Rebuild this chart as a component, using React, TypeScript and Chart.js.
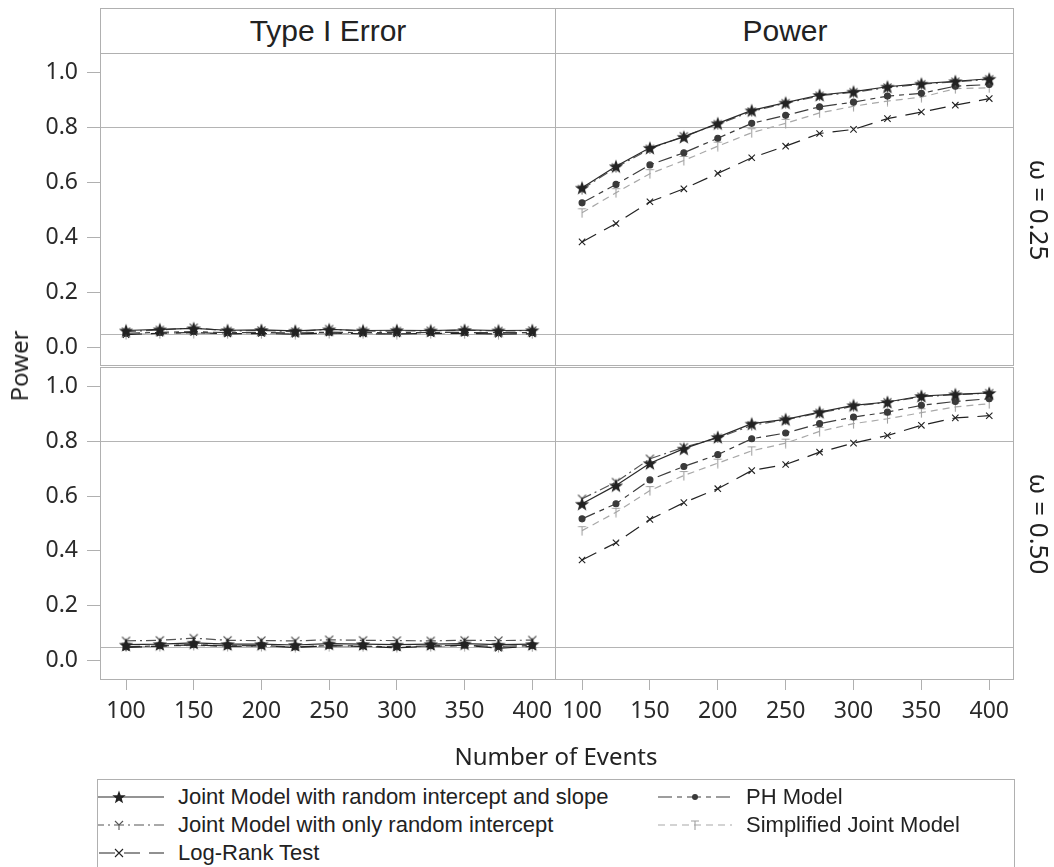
import React, { useEffect, useRef } from "react";
import { Chart, registerables } from "chart.js";

Chart.register(...registerables);

// ---------- data ----------
const events = [100, 125, 150, 175, 200, 225, 250, 275, 300, 325, 350, 375, 400];
const xTicks = [100, 150, 200, 250, 300, 350, 400];
const yTicks = [0, 0.2, 0.4, 0.6, 0.8, 1.0];
const refLines = [0.8, 0.05];

const seriesNames = [
  "Joint Model with random intercept and slope",
  "Joint Model with only random intercept",
  "Log-Rank Test",
  "PH Model",
  "Simplified Joint Model",
];

// Type I error, omega = 0.25
const t25_jmSlope = [0.062, 0.066, 0.070, 0.063, 0.064, 0.061, 0.066, 0.062, 0.063, 0.062, 0.064, 0.062, 0.063];
const t25_jmInt = [0.058, 0.064, 0.072, 0.060, 0.062, 0.058, 0.067, 0.060, 0.060, 0.061, 0.063, 0.060, 0.062];
const t25_lr = [0.047, 0.052, 0.055, 0.050, 0.051, 0.049, 0.053, 0.050, 0.050, 0.051, 0.052, 0.049, 0.050];
const t25_ph = [0.052, 0.055, 0.058, 0.054, 0.055, 0.053, 0.056, 0.054, 0.054, 0.055, 0.055, 0.054, 0.055];
const t25_simp = [0.048, 0.050, 0.052, 0.050, 0.050, 0.049, 0.051, 0.050, 0.049, 0.050, 0.050, 0.049, 0.050];

// Power, omega = 0.25
const p25_jmSlope = [0.581, 0.659, 0.726, 0.766, 0.815, 0.862, 0.890, 0.918, 0.930, 0.948, 0.959, 0.968, 0.977];
const p25_jmInt = [0.576, 0.655, 0.722, 0.768, 0.812, 0.858, 0.888, 0.915, 0.928, 0.945, 0.957, 0.966, 0.975];
const p25_lr = [0.384, 0.451, 0.530, 0.577, 0.633, 0.690, 0.732, 0.778, 0.793, 0.832, 0.856, 0.881, 0.905];
const p25_ph = [0.526, 0.593, 0.664, 0.708, 0.761, 0.815, 0.844, 0.875, 0.892, 0.914, 0.924, 0.950, 0.956];
const p25_simp = [0.490, 0.563, 0.632, 0.680, 0.732, 0.781, 0.815, 0.853, 0.877, 0.896, 0.910, 0.941, 0.944];

// Type I error, omega = 0.50
const t50_jmSlope = [0.058, 0.060, 0.065, 0.060, 0.060, 0.057, 0.062, 0.060, 0.058, 0.060, 0.062, 0.058, 0.060];
const t50_jmInt = [0.072, 0.074, 0.082, 0.074, 0.073, 0.072, 0.076, 0.074, 0.073, 0.072, 0.074, 0.073, 0.075];
const t50_lr = [0.048, 0.053, 0.058, 0.052, 0.054, 0.048, 0.054, 0.052, 0.047, 0.052, 0.056, 0.045, 0.052];
const t50_ph = [0.050, 0.054, 0.058, 0.054, 0.055, 0.050, 0.055, 0.053, 0.050, 0.054, 0.056, 0.052, 0.055];
const t50_simp = [0.050, 0.052, 0.055, 0.052, 0.052, 0.049, 0.053, 0.051, 0.048, 0.051, 0.053, 0.048, 0.050];

// Power, omega = 0.50
const p50_jmSlope = [0.572, 0.639, 0.720, 0.773, 0.815, 0.864, 0.880, 0.906, 0.931, 0.943, 0.965, 0.971, 0.976];
const p50_jmInt = [0.590, 0.651, 0.736, 0.778, 0.812, 0.858, 0.878, 0.903, 0.928, 0.942, 0.962, 0.970, 0.975];
const p50_lr = [0.367, 0.430, 0.515, 0.576, 0.627, 0.693, 0.715, 0.760, 0.793, 0.821, 0.858, 0.885, 0.893];
const p50_ph = [0.517, 0.572, 0.659, 0.708, 0.751, 0.809, 0.830, 0.864, 0.888, 0.906, 0.931, 0.945, 0.955];
const p50_simp = [0.474, 0.541, 0.620, 0.675, 0.720, 0.765, 0.793, 0.836, 0.864, 0.882, 0.904, 0.925, 0.937];

// ---------- styles ----------
type Marker = "star" | "y" | "x" | "dot" | "t";
const seriesStyles: { color: string; dash: number[]; marker: Marker; markerColor: string }[] = [
  { color: "#2a2a2a", dash: [], marker: "star", markerColor: "#222" },
  { color: "#555555", dash: [10, 4, 2, 4], marker: "y", markerColor: "#555" },
  { color: "#222222", dash: [16, 9], marker: "x", markerColor: "#222" },
  { color: "#3c3c3c", dash: [14, 5, 5, 5], marker: "dot", markerColor: "#3a3a3a" },
  { color: "#a8a8a8", dash: [7, 5], marker: "t", markerColor: "#a0a0a0" },
];

const X_MIN = 80.8;
const X_MAX = 417.5;
const Y_MIN = -0.067;
const Y_MAX = 1.067;
const BORDER = "#b0b0b0";
const TICK_FONT = "'Noto Sans', 'Open Sans', sans-serif";
const TEXT_FONT = "'Liberation Sans', Arial, sans-serif";

function markerCanvas(kind: Marker, color: string): HTMLCanvasElement | string {
  if (kind === "x") return "crossRot";
  if (kind === "dot") return "circle";
  const size = kind === "star" ? 16 : 11;
  const c = document.createElement("canvas");
  c.width = size;
  c.height = size;
  const ctx = c.getContext("2d")!;
  const cx = size / 2;
  const cy = size / 2;
  ctx.strokeStyle = color;
  ctx.fillStyle = color;
  ctx.lineWidth = 1.1;
  if (kind === "star") {
    const R = 7.5;
    const r = 3.1;
    ctx.beginPath();
    for (let i = 0; i < 10; i++) {
      const rad = i % 2 === 0 ? R : r;
      const a = -Math.PI / 2 + (i * Math.PI) / 5;
      const px = cx + rad * Math.cos(a);
      const py = cy + 0.7 + rad * Math.sin(a);
      if (i === 0) ctx.moveTo(px, py);
      else ctx.lineTo(px, py);
    }
    ctx.closePath();
    ctx.fill();
  } else if (kind === "y") {
    ctx.beginPath();
    ctx.moveTo(cx - 4, cy - 4);
    ctx.lineTo(cx, cy);
    ctx.lineTo(cx + 4, cy - 4);
    ctx.moveTo(cx, cy);
    ctx.lineTo(cx, cy + 5);
    ctx.stroke();
  } else if (kind === "t") {
    ctx.beginPath();
    ctx.moveTo(cx - 4, cy - 4);
    ctx.lineTo(cx + 4, cy - 4);
    ctx.moveTo(cx, cy - 4);
    ctx.lineTo(cx, cy + 5);
    ctx.stroke();
  }
  return c;
}

const refLinePlugin = {
  id: "refLines",
  beforeDatasetsDraw(chart: any) {
    const { ctx, chartArea, scales } = chart;
    ctx.save();
    ctx.strokeStyle = "#b4b4b4";
    ctx.lineWidth = 1;
    refLines.forEach((v) => {
      const y = Math.round(scales.y.getPixelForValue(v)) + 0.5;
      ctx.beginPath();
      ctx.moveTo(chartArea.left, y);
      ctx.lineTo(chartArea.right, y);
      ctx.stroke();
    });
    ctx.restore();
  },
};

function zeroPadding(s: any) {
  s.paddingTop = 0;
  s.paddingBottom = 0;
  s.paddingLeft = 0;
  s.paddingRight = 0;
}

function Panel(props: {
  left: number;
  top: number;
  width: number;
  height: number;
  series: number[][];
  showX: boolean;
  showY: boolean;
}) {
  const ref = useRef<HTMLCanvasElement>(null);
  useEffect(() => {
    const datasets = props.series.map((vals, i) => {
      const st = seriesStyles[i];
      const ps = markerCanvas(st.marker, st.markerColor);
      return {
        label: seriesNames[i],
        data: events.map((x, j) => ({ x, y: vals[j] })),
        borderColor: st.color,
        borderWidth: 1.2,
        borderDash: st.dash,
        fill: false,
        tension: 0,
        pointStyle: ps as any,
        pointRadius: st.marker === "dot" ? 3 : st.marker === "x" ? 4.5 : 5,
        pointBorderWidth: 1.1,
        pointBorderColor: st.markerColor,
        pointBackgroundColor: st.markerColor,
      };
    });
    const chart = new Chart(ref.current!, {
      type: "line",
      data: { datasets },
      options: {
        animation: false,
        responsive: false,
        maintainAspectRatio: false,
        events: [],
        layout: { padding: 0, autoPadding: false },
        plugins: { legend: { display: false }, tooltip: { enabled: false } },
        scales: {
          x: {
            type: "linear",
            min: X_MIN,
            max: X_MAX,
            display: props.showX,
            afterBuildTicks: (s: any) => {
              s.ticks = xTicks.map((v) => ({ value: v }));
            },
            afterFit: (s: any) => {
              if (props.showX) s.height = 70;
              zeroPadding(s);
            },
            grid: {
              display: true,
              drawOnChartArea: false,
              drawTicks: true,
              tickLength: 11,
              color: BORDER,
            },
            border: { display: false },
            ticks: {
              autoSkip: false,
              maxRotation: 0,
              padding: 8,
              color: "#2a2a2a",
              font: { family: TICK_FONT, size: 23 },
              callback: (v: any) => String(v),
            },
          },
          y: {
            type: "linear",
            min: Y_MIN,
            max: Y_MAX,
            display: props.showY,
            afterBuildTicks: (s: any) => {
              s.ticks = yTicks.map((v) => ({ value: v }));
            },
            afterFit: (s: any) => {
              if (props.showY) s.width = 100;
              zeroPadding(s);
            },
            grid: {
              display: true,
              drawOnChartArea: false,
              drawTicks: true,
              tickLength: 13,
              color: BORDER,
            },
            border: { display: false },
            ticks: {
              padding: 9,
              color: "#2a2a2a",
              font: { family: TICK_FONT, size: 23 },
              callback: (v: any) => Number(v).toFixed(1),
            },
          },
        },
      },
      plugins: [refLinePlugin],
    } as any);
    return () => chart.destroy();
  }, []);
  return (
    <canvas
      ref={ref}
      width={props.width}
      height={props.height}
      style={{ position: "absolute", left: props.left, top: props.top, width: props.width, height: props.height }}
    />
  );
}

function Box(p: { l: number; t: number; w: number; h: number }) {
  return (
    <div
      style={{
        position: "absolute",
        left: p.l,
        top: p.t,
        width: p.w,
        height: p.h,
        border: `1px solid ${BORDER}`,
        boxSizing: "border-box",
        pointerEvents: "none",
      }}
    />
  );
}

function Label(p: { x: number; y: number; text: string; size: number; font: string; rotate?: number }) {
  return (
    <div
      style={{
        position: "absolute",
        left: p.x,
        top: p.y,
        transform: `translate(-50%, -50%) rotate(${p.rotate || 0}deg)`,
        whiteSpace: "nowrap",
        fontFamily: p.font,
        fontSize: p.size,
        color: "#222",
        lineHeight: 1,
      }}
    >
      {p.text}
    </div>
  );
}

function SvgMarker({ kind, color }: { kind: Marker; color: string }) {
  if (kind === "star") {
    const pts: string[] = [];
    for (let i = 0; i < 10; i++) {
      const rad = i % 2 === 0 ? 7 : 2.9;
      const a = -Math.PI / 2 + (i * Math.PI) / 5;
      pts.push(`${(rad * Math.cos(a)).toFixed(2)},${(rad * Math.sin(a) + 0.5).toFixed(2)}`);
    }
    return <polygon points={pts.join(" ")} fill={color} />;
  }
  if (kind === "dot") return <circle cx={0} cy={0} r={3} fill={color} />;
  if (kind === "y") return <path d="M-4,-4 L0,0 L4,-4 M0,0 L0,5" stroke={color} fill="none" strokeWidth={1.1} />;
  if (kind === "t") return <path d="M-4,-4 L4,-4 M0,-4 L0,5" stroke={color} fill="none" strokeWidth={1.1} />;
  return <path d="M-4,-4 L4,4 M-4,4 L4,-4" stroke={color} fill="none" strokeWidth={1.1} />;
}

function LegendItem(p: { idx: number; x: number; y: number; textX: number; w: number }) {
  const st = seriesStyles[p.idx];
  const half = p.w / 2;
  return (
    <>
      <svg
        width={p.w}
        height={20}
        style={{ position: "absolute", left: p.x - half, top: p.y - 10, overflow: "visible" }}
      >
        <line x1={0} y1={10} x2={p.w} y2={10} stroke={st.color} strokeWidth={1.2} strokeDasharray={st.dash.join(" ")} />
        <g transform={`translate(${half},10)`}>
          <SvgMarker kind={st.marker} color={st.markerColor} />
        </g>
      </svg>
      <div
        style={{
          position: "absolute",
          left: p.textX,
          top: p.y,
          transform: "translateY(-50%)",
          whiteSpace: "nowrap",
          fontFamily: TEXT_FONT,
          fontSize: 22,
          color: "#222",
          lineHeight: 1,
        }}
      >
        {seriesNames[p.idx]}
      </div>
    </>
  );
}

export default function App() {
  return (
    <div
      style={{
        position: "absolute",
        left: 0,
        top: 0,
        width: 1054,
        height: 867,
        overflow: "hidden",
        background: "#fff",
      }}
    >
      {/* panels */}
      <Panel left={0} top={54} width={556} height={312} series={[t25_jmSlope, t25_jmInt, t25_lr, t25_ph, t25_simp]} showX={false} showY={true} />
      <Panel left={556} top={54} width={457} height={312} series={[p25_jmSlope, p25_jmInt, p25_lr, p25_ph, p25_simp]} showX={false} showY={false} />
      <Panel left={0} top={368} width={556} height={381} series={[t50_jmSlope, t50_jmInt, t50_lr, t50_ph, t50_simp]} showX={true} showY={true} />
      <Panel left={556} top={368} width={457} height={381} series={[p50_jmSlope, p50_jmInt, p50_lr, p50_ph, p50_simp]} showX={true} showY={false} />

      {/* frames */}
      <Box l={100} t={8} w={456} h={46} />
      <Box l={555} t={8} w={459} h={46} />
      <Box l={100} t={53} w={456} h={313} />
      <Box l={555} t={53} w={459} h={313} />
      <Box l={100} t={367} w={456} h={313} />
      <Box l={555} t={367} w={459} h={313} />

      {/* strip labels */}
      <Label x={328} y={31} text="Type I Error" size={30} font={TEXT_FONT} />
      <Label x={785} y={31} text="Power" size={30} font={TEXT_FONT} />
      <Label x={1040} y={210} text="ω = 0.25" size={26} font={TICK_FONT} rotate={90} />
      <Label x={1040} y={524} text="ω = 0.50" size={26} font={TICK_FONT} rotate={90} />

      {/* axis titles */}
      <Label x={19} y={366} text="Power" size={24} font={TICK_FONT} rotate={-90} />
      <Label x={556} y={756} text="Number of Events" size={24} font={TICK_FONT} />

      {/* legend */}
      <div
        style={{
          position: "absolute",
          left: 97,
          top: 779,
          width: 918,
          height: 120,
          border: `1px solid ${BORDER}`,
          boxSizing: "border-box",
          overflow: "hidden",
        }}
      >
        <div style={{ position: "absolute", left: -97, top: -779, width: 1054, height: 900 }}>
          <LegendItem idx={0} x={118} y={796} textX={177} w={90} />
          <LegendItem idx={1} x={118} y={824} textX={177} w={90} />
          <LegendItem idx={2} x={118} y={852} textX={177} w={90} />
          <LegendItem idx={3} x={694} y={796} textX={745} w={74} />
          <LegendItem idx={4} x={694} y={824} textX={745} w={74} />
        </div>
      </div>
    </div>
  );
}
